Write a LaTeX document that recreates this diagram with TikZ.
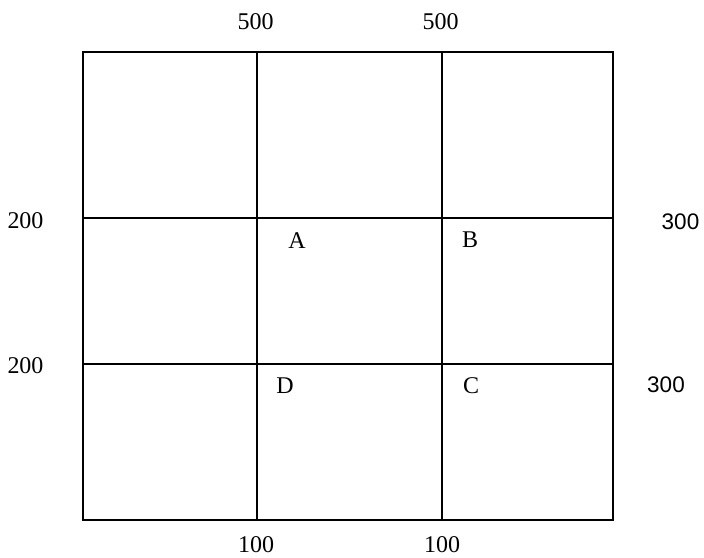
\documentclass[tikz,border=0pt]{standalone}
\usepackage{fontspec}
\setmainfont{Liberation Serif}
\newfontfamily\lblsans{Liberation Sans}
\usetikzlibrary{positioning}
\tikzset{
  gridline/.style={line width=1.8pt},
  dimlbl/.style={font=\fontsize{24}{28}\selectfont, inner sep=0pt},
  sidelbl/.style={font=\lblsans\fontsize{22.5}{27}\selectfont, inner sep=0pt},
  ptlbl/.style={font=\fontsize{24}{28}\selectfont, inner sep=0pt}
}

\begin{document}
\begin{tikzpicture}[x=1pt, y=-1pt]
  \useasboundingbox (0,0) rectangle (704,557);
  % grid
  \draw[gridline] (83,52) rectangle (613,520);
  \draw[gridline] (257,52) -- (257,520);
  \draw[gridline] (442,52) -- (442,520);
  \draw[gridline] (83,218) -- (613,218);
  \draw[gridline] (83,364) -- (613,364);
  % dimensions
  \node[dimlbl] (t1) at (255.5,21.5) {500};
  \node[dimlbl] (t2) at (440.5,21.5) {500};
  \node[dimlbl] (l1) at (25.5,221) {200};
  \node[dimlbl] (l2) at (25.5,366) {200};
  \node[sidelbl] (r1) at (680.5,221.5) {300};
  \node[sidelbl] (r2) at (666,385) {300};
  \node[dimlbl] (b1) at (256,545) {100};
  \node[dimlbl] (b2) at (442,545) {100};
  % points
  \node[ptlbl] (A) at (297,241) {A};
  \node[ptlbl] (B) at (470,240) {B};
  \node[ptlbl] (D) at (285,386) {D};
  \node[ptlbl] (C) at (471,386) {C};
\end{tikzpicture}
\end{document}
